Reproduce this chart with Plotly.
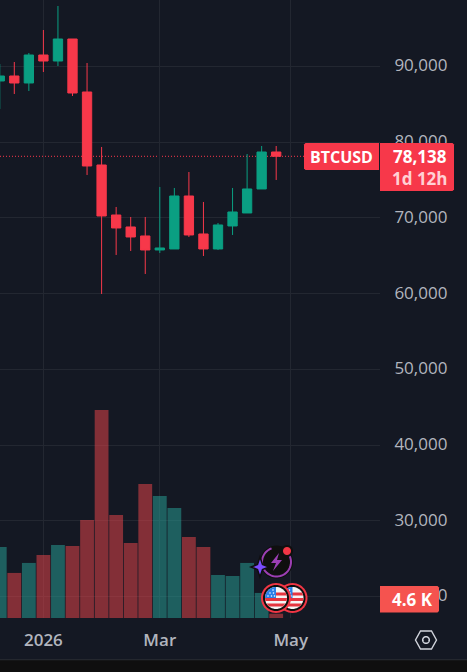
import math
import pandas as pd
import plotly.graph_objects as go

W, H = 467, 672
PANE_W, PANE_H = 380, 618

dates = pd.date_range("2025-12-08", periods=20, freq="7D").strftime("%Y-%m-%d").tolist()
opens = [88086, 88746, 87822, 91520, 90727, 93633, 86633, 76990, 70385, 68800, 67612, 65763, 65895, 72895, 67876, 65895, 68933, 70650, 73820, 78707]
highs = [90331, 90595, 91784, 94822, 97992, 93633, 90463, 79368, 71442, 70122, 70122, 74084, 73952, 76065, 72103, 69329, 73952, 78443, 79500, 79500]
lows = [84387, 86369, 86765, 89275, 90067, 86104, 75669, 59950, 65101, 65630, 62592, 65367, 65895, 67480, 64970, 65763, 67744, 70650, 73820, 75009]
closes = [88746, 87822, 91520, 90727, 93633, 86501, 76858, 70253, 68668, 67480, 65763, 66027, 72895, 67744, 65895, 69065, 70782, 73820, 78707, 78138]
volumes_k = [76.0, 48.2, 58.9, 67.4, 78.1, 77.0, 104.9, 222.6, 110.2, 80.3, 143.4, 130.5, 117.7, 86.7, 76.0, 46.0, 44.9, 58.9, 26.8, 4.6]

price_ticks = [20000, 30000, 40000, 50000, 60000, 70000, 80000, 90000]
price_labels = ["20,000", "30,000", "40,000", "50,000", "60,000", "70,000", "80,000", "90,000"]
time_ticks = ["2025-12-29", "2026-02-23", "2026-04-27"]
time_labels = ["2026", "Mar", "May"]
last_price = 78138

BG = "#141823"
GRID = "#232731"
RED = "#F7384A"
GREEN = "#0A9F82"
TXT = "#B2B5BE"
FONT = "Open Sans"

vol_colors = ["rgba(242,70,75,0.5)" if c < o else "rgba(40,165,155,0.5)" for o, c in zip(opens, closes)]

px_per_day = 14.55 / 7
x0 = pd.Timestamp("2025-12-29") - pd.Timedelta(days=43.4 / px_per_day)
x1 = x0 + pd.Timedelta(days=PANE_W / px_per_day)


def fx(x):
    return x / PANE_W


def fy(y):
    return 1 - y / PANE_H


def pth(points, close=True):
    s = "M" + " L".join(f"{fx(x):.5f},{fy(y):.5f}" for x, y in points)
    return s + (" Z" if close else "")


def poly_circle(cx, cy, r, a0=0, a1=360, n=48):
    return [(cx + r * math.cos(math.radians(a0 + (a1 - a0) * i / n)),
             cy + r * math.sin(math.radians(a0 + (a1 - a0) * i / n))) for i in range(n + 1)]


def rect(x0_, y0_, x1_, y1_, color):
    return dict(type="rect", xref="paper", yref="paper", x0=fx(x0_), x1=fx(x1_), y0=fy(y0_), y1=fy(y1_),
                fillcolor=color, line=dict(width=0), layer="above")


def poly(points, fill="rgba(0,0,0,0)", line=None, width=0, close=True):
    return dict(type="path", xref="paper", yref="paper", path=pth(points, close), fillcolor=fill,
                line=dict(color=line or "rgba(0,0,0,0)", width=width), layer="above")


def label_box(x0_, y0_, x1_, y1_, color, left=False, right=False, c=1.5):
    lc = c if left else 0
    rc = c if right else 0
    return poly([(x0_ + lc, y0_), (x1_ - rc, y0_), (x1_, y0_ + rc), (x1_, y1_ - rc),
                 (x1_ - rc, y1_), (x0_ + lc, y1_), (x0_, y1_ - lc), (x0_, y0_ + lc)], fill=color)


def flag(cx, cy):
    out = [poly(poly_circle(cx, cy, 15), fill="#F23645"),
           poly(poly_circle(cx, cy, 13), fill="#0F0F0F"),
           poly(poly_circle(cx, cy, 11), fill="#F4F4F4")]
    r = 11
    for top, bot in [(-5.6, -2.6), (0, 3), (5.6, 8.6)]:
        pts = []
        for yy in [top, bot]:
            half = math.sqrt(max(r * r - yy * yy, 0))
            pts.append((yy, half))
        out.append(poly([(cx - pts[0][1], cy + top), (cx + pts[0][1], cy + top),
                         (cx + pts[1][1], cy + bot), (cx - pts[1][1], cy + bot)], fill="#E5353F"))
    canton = []
    for a in range(180, 271, 6):
        canton.append((cx + r * math.cos(math.radians(a)), cy + r * math.sin(math.radians(a))))
    out.append(poly([(cx, cy)] + canton, fill="#2A7FE8"))
    for dx, dy in [(-8, -2), (-4.5, -2), (-1.5, -2), (-6, -5), (-2.5, -5), (-3, -8)]:
        out.append(poly(poly_circle(cx + dx, cy + dy, 0.8, n=8), fill="#FFFFFF"))
    return out


shapes = [
    dict(type="line", xref="paper", yref="y2", x0=0, x1=fx(304), y0=last_price, y1=last_price,
         line=dict(color=RED, width=1, dash="1px,2px"), layer="below"),
    rect(0, 660, W, 672, "#0F0F0F"),
    rect(0, 659.3, W, 660.3, "#2A2C33"),
    label_box(304, 143, 379, 170, RED, left=True),
    label_box(380, 143, 454, 191, RED, right=True),
    label_box(380, 586, 439, 612.5, "#F5534F", right=True),
]
shapes += flag(292.5, 598) + flag(276, 598)
# alert badge
shapes += [
    poly(poly_circle(276.5, 562, 16.5), fill="#0F0F0F"),
    poly(poly_circle(276.5, 562, 14.5, a0=-50, a1=250), line="#9C3FB4", width=2, close=False),
    poly([(279, 553), (271, 563), (276, 563), (273, 571), (282, 560), (277, 560)], fill="#9C3FB4"),
    poly(poly_circle(287, 551, 6), fill="#0F0F0F"),
    poly(poly_circle(287, 551, 4), fill="#F23645"),
    poly([(260, 557), (262.5, 564.5), (269, 567), (262.5, 569.5), (260, 577), (257.5, 569.5), (251, 567), (257.5, 564.5)],
         fill="#7B4DFF", line="#0F0F0F", width=1.5),
    # settings hexagon
    poly([(436.5, 640), (431.5, 631), (420.5, 631), (415.5, 640), (420.5, 649), (431.5, 649)], line="#D1D4DC", width=1.4),
    poly(poly_circle(426, 640, 3.3), line="#D1D4DC", width=1.5),
]


def note(text, x, y, size, color="#FFFFFF", bold=True, anchor="center"):
    return dict(text=f"<b>{text}</b>" if bold else text, xref="paper", yref="paper", x=fx(x), y=fy(y), showarrow=False,
                xanchor=anchor, yanchor="middle", font=dict(family=FONT, size=size, color=color))


annotations = [
    note("BTCUSD", 341.5, 157, 16),
    note("78,138", 420, 156, 17),
    note("1d 12h", 420, 178, 17, color="#FFD0D5"),
    note("4.6 K", 412, 599.5, 17),
]

fig = go.Figure()
fig.add_trace(go.Bar(x=dates, y=[v * 1000 for v in volumes_k], marker=dict(color=vol_colors, line=dict(width=0)), yaxis="y"))
fig.add_trace(go.Candlestick(
    x=dates, open=opens, high=highs, low=lows, close=closes, yaxis="y2",
    increasing=dict(line=dict(color=GREEN, width=1), fillcolor=GREEN),
    decreasing=dict(line=dict(color=RED, width=1), fillcolor=RED),
    whiskerwidth=0,
))
fig.update_layout(
    width=W, height=H, autosize=False, showlegend=False,
    margin=dict(l=0, r=W - PANE_W, t=0, b=H - PANE_H),
    paper_bgcolor=BG, plot_bgcolor=BG,
    bargap=0.05, boxgap=0.36, boxgroupgap=0,
    xaxis=dict(type="date", range=[x0, x1], tickmode="array", tickvals=time_ticks, ticktext=time_labels,
               showgrid=True, gridcolor=GRID, gridwidth=1, zeroline=False, showline=False,
               ticks="outside", ticklen=7, tickcolor=BG,
               tickfont=dict(family=FONT, size=17, color=TXT, weight=600),
               rangeslider=dict(visible=False)),
    yaxis=dict(range=[0, 661000], visible=False, fixedrange=True),
    yaxis2=dict(overlaying="y", side="right", range=[17146, 98785], tickmode="array", tickvals=price_ticks,
                ticktext=price_labels, showgrid=True, gridcolor=GRID, gridwidth=1, zeroline=False, showline=False,
                ticks="outside", ticklen=10, tickcolor=BG, ticklabelshift=-1,
                tickfont=dict(family=FONT, size=17, color=TXT, weight=500)),
    shapes=shapes, annotations=annotations,
)
fig.write_html("out.html", config=dict(displayModeBar=False),
               post_script="document.body.style.margin='0';document.documentElement.style.overflow='hidden';")
